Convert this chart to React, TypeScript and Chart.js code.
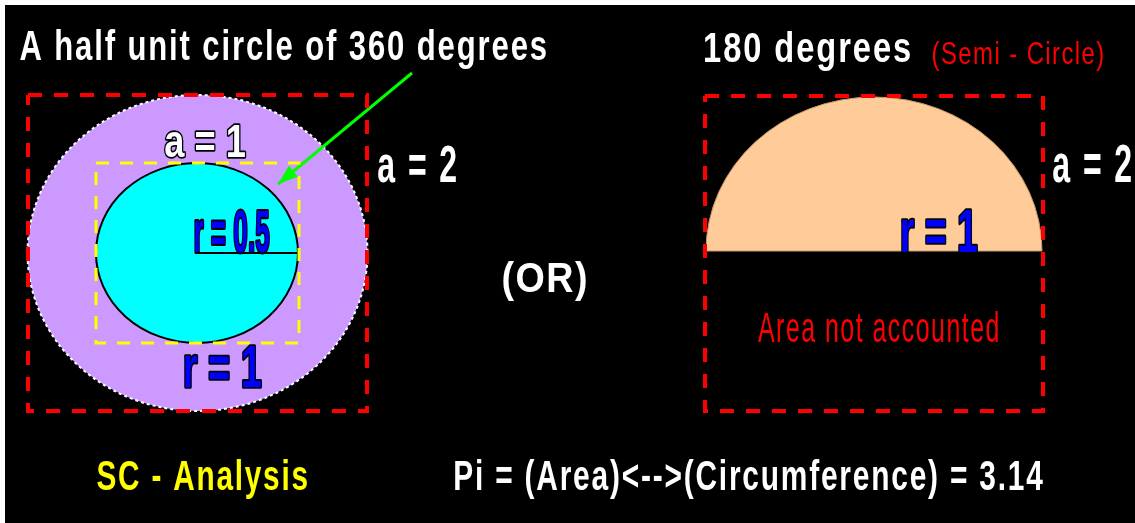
import React, { useEffect, useRef } from "react";
import { Chart, registerables } from "chart.js";

Chart.register(...registerables);

// ---- geometry of the diagram (data units of the hidden x / y scales) ----
const xRange = [0, 1135];
const yRange = [0, 523];
const backgroundBox = [5, 5, 1135, 523];

const leftFrame = [
  { x: 28, y: 95 }, { x: 367, y: 95 }, { x: 367, y: 411 }, { x: 28, y: 411 }, { x: 28, y: 95 },
];
const innerFrame = [
  { x: 96, y: 163 }, { x: 299, y: 163 }, { x: 299, y: 343 }, { x: 96, y: 343 }, { x: 96, y: 163 },
];
const rightFrame = [
  { x: 705, y: 96 }, { x: 1043, y: 96 }, { x: 1043, y: 411 }, { x: 705, y: 411 }, { x: 705, y: 96 },
];
const radiusLine = [{ x: 195, y: 253 }, { x: 298, y: 253 }];
const arrowLine = [{ x: 412, y: 73 }, { x: 278, y: 184 }];

// ellipses: [cx, cy, rx, ry]
const outerCircle = [197.5, 253, 170, 158];
const innerCircle = [197, 253, 101, 90];
const semiCircle = [874, 251, 168, 154];

const labelTexts = [
  "A half unit circle of 360 degrees",
  "180 degrees",
  "(Semi - Circle)",
  "a = 1",
  "a = 2",
  "a = 2",
  "r = 0.5",
  "r = 1",
  "r = 1",
  "(OR)",
  "Area not accounted",
  "SC - Analysis",
  "Pi = (Area)<-->(Circumference) = 3.14",
];

type Label = {
  text: string; x: number; top: number; base: number; right: number;
  bold: boolean; fill: string; stroke?: string; sw?: number; spacing?: number;
};

const labelBoxes: Label[] = [
  { text: labelTexts[0], x: 20, top: 30, base: 60, right: 546, bold: true, fill: "#ffffff", spacing: 6 },
  { text: labelTexts[1], x: 705, top: 32, base: 62, right: 910, bold: true, fill: "#ffffff", spacing: 6 },
  { text: labelTexts[2], x: 933, top: 43, base: 64, right: 1103, bold: false, fill: "#ff0000", spacing: 6 },
  { text: labelTexts[3], x: 165, top: 125, base: 157, right: 245, bold: true, fill: "#ffffff", stroke: "#000000", sw: 3 },
  { text: labelTexts[4], x: 378, top: 146, base: 182, right: 456, bold: true, fill: "#ffffff", spacing: 6 },
  { text: labelTexts[5], x: 1053, top: 144, base: 182, right: 1131, bold: true, fill: "#ffffff", spacing: 6 },
  { text: labelTexts[6], x: 195, top: 210, base: 252, right: 269, bold: true, fill: "#0000ff", stroke: "#000000", sw: 3 },
  { text: labelTexts[7], x: 185, top: 346, base: 387, right: 261, bold: true, fill: "#0000ff", stroke: "#000000", sw: 3 },
  { text: labelTexts[8], x: 902, top: 209, base: 252, right: 977, bold: true, fill: "#0000ff", stroke: "#000000", sw: 3 },
  { text: labelTexts[9], x: 503, top: 262, base: 292, right: 586, bold: true, fill: "#ffffff", spacing: 4 },
  { text: labelTexts[10], x: 758, top: 313, base: 342, right: 998, bold: false, fill: "#ff0000", spacing: 6 },
  { text: labelTexts[11], x: 97, top: 460, base: 490, right: 307, bold: true, fill: "#ffff00", spacing: 6 },
  { text: labelTexts[12], x: 455, top: 460, base: 490, right: 1043, bold: true, fill: "#ffffff", spacing: 6 },
];

const FONT = '"Liberation Sans Narrow", "Liberation Sans", Arial, sans-serif';

function drawLabel(ctx: CanvasRenderingContext2D, l: Label, xs: any, ys: any) {
  const size = 100;
  ctx.save();
  ctx.font = `${l.bold ? "bold " : ""}${size}px ${FONT}`;
  (ctx as any).letterSpacing = `${l.spacing || 0}px`;
  const m = ctx.measureText(l.text);
  const left = m.actualBoundingBoxLeft;
  const w = m.actualBoundingBoxLeft + m.actualBoundingBoxRight;
  const cap = ctx.measureText("H").actualBoundingBoxAscent;
  const px = xs.getPixelForValue(l.x);
  const pr = xs.getPixelForValue(l.right);
  const pt = ys.getPixelForValue(l.top);
  const pb = ys.getPixelForValue(l.base);
  const sx = (pr - px) / w;
  const sy = (pb - pt) / cap;
  ctx.translate(px, pb);
  ctx.scale(sx, sy);
  ctx.textBaseline = "alphabetic";
  ctx.textAlign = "left";
  if (l.stroke) {
    ctx.lineWidth = (l.sw || 2) / ((sx + sy) / 2);
    ctx.lineJoin = "round";
    ctx.strokeStyle = l.stroke;
    ctx.strokeText(l.text, left, 0);
  }
  ctx.fillStyle = l.fill;
  ctx.fillText(l.text, left, 0);
  ctx.restore();
}

function ellipsePath(ctx: CanvasRenderingContext2D, e: number[], xs: any, ys: any, a0: number, a1: number) {
  const cx = xs.getPixelForValue(e[0]);
  const cy = ys.getPixelForValue(e[1]);
  const rx = Math.abs(xs.getPixelForValue(e[0] + e[2]) - cx);
  const ry = Math.abs(ys.getPixelForValue(e[1] + e[3]) - cy);
  ctx.beginPath();
  ctx.ellipse(cx, cy, rx, ry, 0, a0, a1);
}

const diagramPlugin = {
  id: "diagram",
  beforeDatasetsDraw(chart: any) {
    const ctx: CanvasRenderingContext2D = chart.ctx;
    const xs = chart.scales.x;
    const ys = chart.scales.y;
    ctx.save();
    ctx.fillStyle = "#ffffff";
    ctx.fillRect(0, 0, chart.width, chart.height);
    const bx = xs.getPixelForValue(backgroundBox[0]);
    const by = ys.getPixelForValue(backgroundBox[1]);
    const bx2 = xs.getPixelForValue(backgroundBox[2]);
    const by2 = ys.getPixelForValue(backgroundBox[3]);
    ctx.fillStyle = "#000000";
    ctx.fillRect(bx, by, bx2 - bx, by2 - by);

    ellipsePath(ctx, outerCircle, xs, ys, 0, Math.PI * 2);
    ctx.fillStyle = "#cc99ff";
    ctx.fill();
    ctx.setLineDash([3, 3]);
    ctx.lineWidth = 2;
    ctx.strokeStyle = "#ffffff";
    ctx.stroke();
    ctx.setLineDash([]);

    ellipsePath(ctx, innerCircle, xs, ys, 0, Math.PI * 2);
    ctx.fillStyle = "#00ffff";
    ctx.fill();
    ctx.lineWidth = 2;
    ctx.strokeStyle = "#000000";
    ctx.stroke();

    ellipsePath(ctx, semiCircle, xs, ys, Math.PI, Math.PI * 2);
    ctx.closePath();
    ctx.fillStyle = "#ffcc99";
    ctx.fill();
    ctx.lineWidth = 1;
    ctx.strokeStyle = "#c89a6e";
    ctx.stroke();
    ctx.restore();
  },
  afterDatasetsDraw(chart: any) {
    const ctx: CanvasRenderingContext2D = chart.ctx;
    const xs = chart.scales.x;
    const ys = chart.scales.y;
    const x0 = xs.getPixelForValue(arrowLine[0].x);
    const y0 = ys.getPixelForValue(arrowLine[0].y);
    const x1 = xs.getPixelForValue(arrowLine[1].x);
    const y1 = ys.getPixelForValue(arrowLine[1].y);
    const ang = Math.atan2(y1 - y0, x1 - x0);
    const len = 20;
    const half = 7;
    ctx.save();
    ctx.fillStyle = "#00ff00";
    ctx.beginPath();
    ctx.moveTo(x1, y1);
    ctx.lineTo(x1 - len * Math.cos(ang) + half * Math.sin(ang), y1 - len * Math.sin(ang) - half * Math.cos(ang));
    ctx.lineTo(x1 - len * Math.cos(ang) - half * Math.sin(ang), y1 - len * Math.sin(ang) + half * Math.cos(ang));
    ctx.closePath();
    ctx.fill();
    ctx.restore();
    for (const l of labelBoxes) drawLabel(ctx, l, xs, ys);
  },
};

function frameDataset(data: any[], color: string, width: number, dash: number[]) {
  return {
    data,
    showLine: true,
    borderColor: color,
    borderWidth: width,
    borderDash: dash,
    pointRadius: 0,
    pointHoverRadius: 0,
    fill: false,
    tension: 0,
  };
}

export default function App() {
  const ref = useRef<HTMLCanvasElement | null>(null);
  useEffect(() => {
    document.body.style.margin = "0";
    if (!ref.current) return;
    const chart = new Chart(ref.current, {
      type: "scatter",
      data: {
        datasets: [
          frameDataset(leftFrame, "#ff0000", 4, [14, 12]),
          frameDataset(innerFrame, "#ffff00", 3, [13, 11]),
          frameDataset(rightFrame, "#ff0000", 4, [14, 12]),
          frameDataset(radiusLine, "#000000", 2, []),
          frameDataset(arrowLine, "#00ff00", 3, []),
        ] as any,
      },
      options: {
        animation: false,
        responsive: false,
        maintainAspectRatio: false,
        layout: { padding: 0 },
        plugins: { legend: { display: false }, tooltip: { enabled: false } },
        events: [],
        scales: {
          x: { type: "linear", min: xRange[0], max: xRange[1], display: false },
          y: { type: "linear", min: yRange[0], max: yRange[1], reverse: true, display: false },
        },
      },
      plugins: [diagramPlugin],
    });
    return () => chart.destroy();
  }, []);
  return (
    <div style={{ width: 1135, height: 523 }}>
      <canvas ref={ref} width={1135} height={523} style={{ display: "block" }} />
    </div>
  );
}
